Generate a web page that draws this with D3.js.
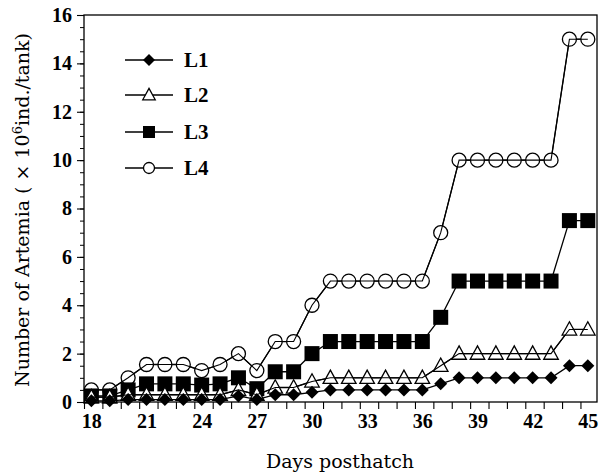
<!DOCTYPE html>
<html><head><meta charset="utf-8">
<script src="https://cdn.jsdelivr.net/npm/d3@7"></script>
<style>body{margin:0;background:#fff}svg{display:block}</style>
</head><body><svg id="c" width="610" height="474"></svg>
<script>
const days = d3.range(18, 46);
const L1 = [0.05,0.05,0.1,0.1,0.1,0.1,0.1,0.1,0.25,0.1,0.3,0.3,0.4,0.5,0.5,0.5,0.5,0.5,0.5,0.75,1,1,1,1,1,1,1.5,1.5];
const L2 = [0.2,0.2,0.3,0.3,0.3,0.3,0.3,0.3,0.5,0.3,0.6,0.6,0.85,1,1,1,1,1,1,1.5,2,2,2,2,2,2,3,3];
const L3 = [0.25,0.25,0.5,0.75,0.75,0.75,0.7,0.75,1.0,0.55,1.25,1.25,2,2.5,2.5,2.5,2.5,2.5,2.5,3.5,5,5,5,5,5,5,7.5,7.5];
const L4 = [0.5,0.5,1.0,1.55,1.55,1.55,1.3,1.55,2,1.3,2.5,2.5,4,5,5,5,5,5,5,7,10,10,10,10,10,10,15,15];
const seriesNames = ["L1","L2","L3","L4"];
const xTickLabels = [18,21,24,27,30,33,36,39,42,45];
const yTickLabels = [0,2,4,6,8,10,12,14,16];

const svg = d3.select("#c");
const x = d3.scaleLinear().domain([17.6, 45.5]).range([84, 597]);
const y = d3.scaleLinear().domain([0, 16]).range([402, 15]);
const font = "'Liberation Serif','DejaVu Serif',serif";
const tfont = "'DejaVu Serif','Liberation Serif',serif";

// frame
svg.append("rect").attr("x",84).attr("y",15).attr("width",513).attr("height",387)
  .attr("fill","none").attr("stroke","#000").attr("stroke-width",1.3);

// x axis ticks (offset like reference) and labels
const xt = svg.append("g").attr("transform","translate(0,402)")
  .call(d3.axisBottom(x).tickValues(days.map(d=>d-0.4)).tickSize(7).tickFormat(""));
xt.select(".domain").remove();
xt.selectAll("line").attr("stroke-width",1.1);
const xl = svg.append("g").attr("transform","translate(0,402)")
  .call(d3.axisBottom(x).tickValues(xTickLabels).tickSize(0).tickPadding(12).tickFormat(d3.format("d")));
xl.select(".domain").remove();
xl.selectAll("text").attr("font-family",font).attr("font-weight","bold").attr("font-size",20).attr("fill","#000");

// y axis
const ym = svg.append("g").attr("transform","translate(84,0)")
  .call(d3.axisLeft(y).tickValues(d3.range(0,16.01,0.5)).tickSize(4).tickFormat(""));
ym.select(".domain").remove();
const ya = svg.append("g").attr("transform","translate(84,0)")
  .call(d3.axisLeft(y).tickValues(yTickLabels).tickSize(7).tickPadding(5).tickFormat(d3.format("d")));
ya.select(".domain").remove();
ya.selectAll("line").attr("stroke-width",1.1);
ya.selectAll("text").attr("font-family",font).attr("font-weight","bold").attr("font-size",20).attr("fill","#000");

// titles
svg.append("text").attr("x",340).attr("y",468).attr("text-anchor","middle")
  .attr("font-family",tfont).attr("font-size",19).text("Days posthatch");
const yt = svg.append("text").attr("transform","translate(29,210) rotate(-90)")
  .attr("text-anchor","middle").attr("font-family",tfont).attr("font-size",19);
yt.append("tspan").text("Number of Artemia ( \u00d7 10");
yt.append("tspan").attr("dy",-7).attr("font-size",13).text("6");
yt.append("tspan").attr("dy",7).text("ind./tank)");

// markers
function marker(g, kind, s){
  if(kind==="L1") g.append("path").attr("d",`M0,${-s/2}L${s/2},0L0,${s/2}L${-s/2},0Z`).attr("fill","#000");
  if(kind==="L2") g.append("path").attr("d",`M0,${-s*0.55}L${s*0.52},${s*0.4}L${-s*0.52},${s*0.4}Z`).attr("fill","#fff").attr("stroke","#000").attr("stroke-width",1.3);
  if(kind==="L3") g.append("rect").attr("x",-s/2).attr("y",-s/2).attr("width",s).attr("height",s).attr("fill","#000");
  if(kind==="L4") g.append("circle").attr("r",s/2).attr("fill","#fff").attr("stroke","#000").attr("stroke-width",1.3);
}
const data = {L1, L2, L3, L4};
const line = d3.line().x((d,i)=>x(days[i])).y(d=>y(d));
const sizes = {L1:13, L2:14, L3:15, L4:14};
["L4","L3","L2","L1"].forEach(k=>{
  const g = svg.append("g");
  g.append("path").attr("d",line(data[k])).attr("fill","none").attr("stroke","#000").attr("stroke-width",1.3);
  data[k].forEach((v,i)=>{
    const m = g.append("g").attr("transform",`translate(${x(days[i])},${y(v)})`);
    marker(m,k,sizes[k]);
  });
});
["L4","L2"].forEach(k=>{
  svg.append("path").attr("d",line(data[k])).attr("fill","none").attr("stroke","#000").attr("stroke-width",1.1);
});

// legend
const legY = [60,95,132,168];
seriesNames.forEach((k,i)=>{
  const g = svg.append("g").attr("transform",`translate(0,${legY[i]})`);
  g.append("line").attr("x1",125).attr("x2",173).attr("y1",0).attr("y2",0).attr("stroke","#000").attr("stroke-width",1.3);
  const m = g.append("g").attr("transform","translate(149,0)");
  marker(m,k, k==="L4"?11:12);
  g.append("text").attr("x",184).attr("y",7).attr("font-family",font).attr("font-weight","bold")
    .attr("font-size",21).text(k);
});
</script></body></html>
